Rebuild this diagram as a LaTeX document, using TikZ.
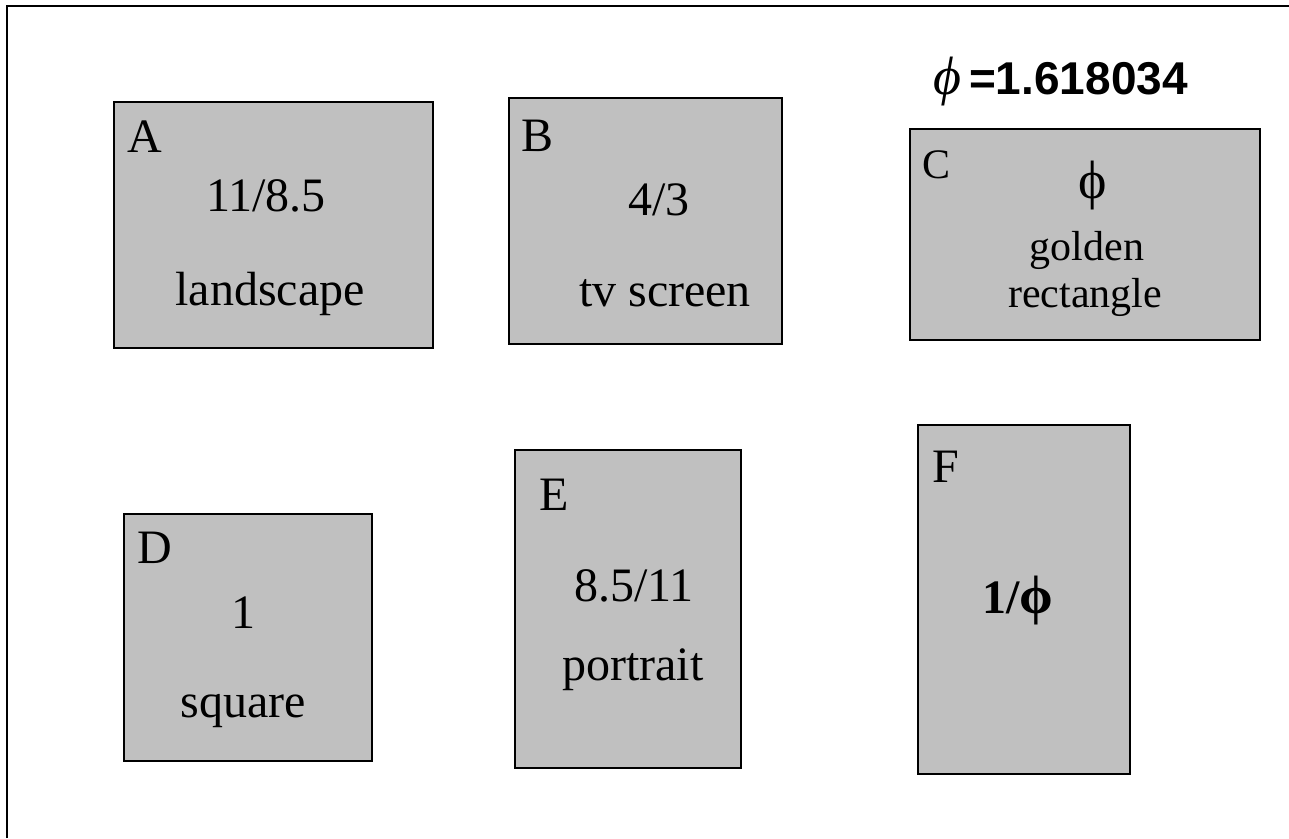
\documentclass[tikz,border=0pt]{standalone}
\usepackage{fontspec}
\setmainfont{Liberation Serif}
\newfontfamily\headfont{Liberation Sans}
\begin{document}
\begin{tikzpicture}[x=1pt,y=-1pt,
  panel/.style={draw=black,fill=panelgray,line width=2pt,inner sep=0pt,anchor=north west},
  tag/.style={anchor=base west,inner sep=0pt,font=\fontsize{48}{48}\selectfont},
  caption/.style={anchor=base,inner sep=0pt,font=\fontsize{48}{48}\selectfont},
  smallcap/.style={anchor=base,inner sep=0pt,font=\fontsize{42}{42}\selectfont}]
\definecolor{panelgray}{HTML}{C0C0C0}
\useasboundingbox (0,0) rectangle (1289,838);
% outer frame (left and top edges)
\draw[line width=2pt] (7,838) -- (7,6) -- (1289,6);

% ratio title
\node[anchor=base east,inner sep=0pt,font=\headfont\bfseries\fontsize{46}{46}\selectfont]
  (title) at (1188,94) {{\rmfamily\itshape\mdseries\fontsize{54}{54}\selectfont ϕ}\,=1.618034};

% panels
\node[panel,minimum width=319pt,minimum height=246pt] (A) at (113,101) {};
\node[panel,minimum width=273pt,minimum height=246pt] (B) at (508,97) {};
\node[panel,minimum width=350pt,minimum height=211pt] (C) at (909,128) {};
\node[panel,minimum width=248pt,minimum height=247pt] (D) at (123,513) {};
\node[panel,minimum width=226pt,minimum height=318pt] (E) at (514,449) {};
\node[panel,minimum width=212pt,minimum height=349pt] (F) at (917,424) {};

% panel A
\node[tag] (Atag) at (127,152) {A};
\node[caption] (Aratio) at (266,211) {11/8.5};
\node[caption] (Aname) at (270,305) {landscape};
% panel B
\node[tag] (Btag) at (521,151) {B};
\node[caption] (Bratio) at (659,215) {4/3};
\node[caption] (Bname) at (665,306) {tv screen};
% panel C
\node[anchor=base west,inner sep=0pt,font=\fontsize{42}{42}\selectfont] (Ctag) at (922,178) {C};
\node[anchor=base,inner sep=0pt,font=\fontsize{54}{54}\selectfont] (Cratio) at (1093,198) {ϕ};
\node[smallcap] (Cname1) at (1087,260) {golden};
\node[smallcap] (Cname2) at (1085,307) {rectangle};
% panel D
\node[tag] (Dtag) at (137,563) {D};
\node[caption] (Dratio) at (243,628) {1};
\node[caption] (Dname) at (243,717) {square};
% panel E
\node[tag] (Etag) at (539,510) {E};
\node[caption] (Eratio) at (634,601) {8.5/11};
\node[caption] (Ename) at (633,680) {portrait};
% panel F
\node[tag] (Ftag) at (932,482) {F};
\node[caption,font=\bfseries\fontsize{48}{48}\selectfont] (Fratio) at (1018,613) {1/{\fontsize{54}{54}\selectfont ϕ}};
\end{tikzpicture}
\end{document}
